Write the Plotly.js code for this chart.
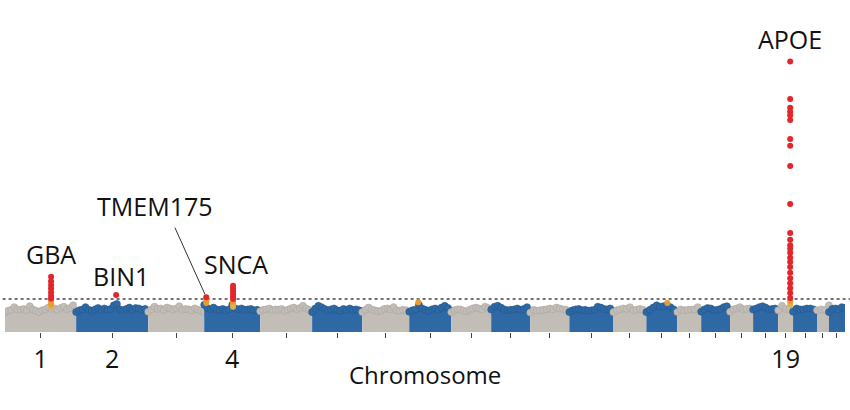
<!DOCTYPE html>
<html>
<head>
<meta charset="utf-8">
<script src="https://cdn.plot.ly/plotly-3.0.1.min.js"></script>
<style>html,body{margin:0;padding:0;background:#fff;}#chart{width:850px;height:410px;}</style>
</head>
<body>
<div id="chart"></div>
<script>
// Chromosome spans (Mb, as drawn) and tick labels
const chromNames = ['1','2','3','4','5','6','7','8','9','10','11','12','13','14','15','16','17','18','19','20','21','22'];
const chromLengths = [244,247,192,192,178,172,161,144,137,134,134,151,113,106,82,99,79,86,51,82,41,55];
const tickLabels = ['1','2','','4','','','','','','','','','','','','','','','19','','',''];
const xTitle = 'Chromosome';

// Upper envelope of each chromosome's SNP cloud (-log10 p), read left to right
const chr1Top = [4.3,4.7,4.9,5.5,5.0,4.9,5.1,4.8,5.7,5.0,4.7,4.4,4.8,5.0,5.4,5.1,5.2,4.9,5.3,5.6,5.0,5.3,5.9,4.6];
const chr2Top = [4.4,4.8,5.0,5.5,4.9,4.7,5.0,5.3,4.9,5.2,4.9,5.1,5.9,6.2,5.0,4.8,5.1,5.4,4.9,5.3,5.2,4.9,5.1,4.5];
const chr3Top = [4.5,5.0,5.6,5.1,5.2,4.9,5.4,5.2,5.0,5.2,5.7,4.9,5.1,5.0,4.8,5.2,4.9,4.7,4.4];
const chr4Top = [6.0,5.3,5.0,5.4,5.0,4.9,5.1,4.8,5.0,6.0,5.2,5.0,5.2,4.9,5.0,5.1,4.8,4.9,4.6];
const chr5Top = [4.6,4.9,5.0,5.2,4.8,5.0,4.9,5.1,4.7,4.9,5.2,5.4,5.0,5.3,5.8,5.2,4.9,4.5];
const chr6Top = [4.4,5.2,5.8,5.5,5.1,4.8,5.0,5.2,4.8,4.7,5.1,4.9,5.2,4.9,5.0,4.8,4.6];
const chr7Top = [4.4,4.9,5.4,5.0,4.8,4.6,4.7,5.1,5.2,5.0,5.5,4.8,4.7,4.9,4.8,4.5];
const chr8Top = [4.5,4.8,5.0,6.0,5.2,4.9,4.7,5.0,5.2,4.9,5.4,5.8,5.3,4.7];
const chr9Top = [4.4,4.8,5.0,5.0,4.7,4.6,4.9,5.2,5.4,5.2,5.0,5.6,5.3,4.6];
const chr10Top = [5.0,5.6,5.8,5.4,5.0,4.8,4.9,5.0,5.2,4.9,5.1,5.5,4.6];
const chr11Top = [4.3,4.9,4.7,4.8,4.9,5.0,5.2,5.0,5.4,5.2,5.0,4.9,4.6];
const chr12Top = [4.4,4.8,5.0,5.1,4.8,4.9,4.7,4.8,4.9,5.6,5.4,5.1,5.0,5.2,4.6];
const chr13Top = [4.4,4.8,5.0,5.2,5.1,5.5,4.8,4.9,5.1,4.9,4.4];
const chr14Top = [4.4,4.9,5.4,5.9,5.6,5.7,5.9,5.5,5.0,4.4];
const chr15Top = [4.4,5.0,4.8,4.9,4.9,5.0,5.5,4.5];
const chr16Top = [4.5,5.0,5.3,5.2,4.8,4.9,5.1,5.5,5.7,4.8];
const chr17Top = [4.5,5.0,5.2,5.5,5.0,5.1,5.2,4.6];
const chr18Top = [5.0,5.2,5.5,5.7,5.4,5.0,5.1,5.2,4.8];
const chr19Top = [4.8,5.8,5.1,5.0,4.7];
const chr20Top = [4.5,5.2,5.0,5.0,5.2,5.2,5.0,4.6];
const chr21Top = [4.8,5.0,4.9,5.9];
const chr22Top = [4.4,5.1,5.2,5.0,5.5,5.3];
const cloudTops = [chr1Top,chr2Top,chr3Top,chr4Top,chr5Top,chr6Top,chr7Top,chr8Top,chr9Top,chr10Top,chr11Top,
  chr12Top,chr13Top,chr14Top,chr15Top,chr16Top,chr17Top,chr18Top,chr19Top,chr20Top,chr21Top,chr22Top];

// Highlighted loci
const gbaValues = [12.2,11.2,10.4,9.6,8.8,8.0,7.4,6.8,6.2,5.6];
const bin1Values = [8.2];
const tmem175Values = [7.7,6.9,6.4];
const sncaValues = [10.2,9.6,9.0,8.4,7.8,7.3,6.7,6.1,5.6];
const chr8Values = [6.6];
const chr14Values = [6.4];
const apoeValues = [59.8,51.5,49.6,48.7,47.9,46.9,42.7,41.2,36.7,28.3,21.9,20.4,19.2,18.4,17.5,16.4,15.5,14.4,13.1,
  11.9,10.8,9.7,8.6,7.5,6.8,6.1];
const hitNames = ['GBA','BIN1','TMEM175','SNCA','','','APOE'];
const hitChrom = ['1','2','4','4','8','14','19'];
const hitPos = [158,137,7,99,31,72,41];
const hitValues = [gbaValues,bin1Values,tmem175Values,sncaValues,chr8Values,chr14Values,apoeValues];
const significance = 7.3;

// ---- build ----
const starts = [];
let acc = 0;
chromLengths.forEach(l => { starts.push(acc); acc += l; });
const total = acc;

const grayFill = '#C3BDB8', grayEdge = '#ABA49F';
const blueFill = '#2E69A5', blueEdge = '#24578D';
const traces = [];
cloudTops.forEach((tops, c) => {
  const n = tops.length;
  const xs = tops.map((_, i) => starts[c] + chromLengths[c] * i / (n - 1));
  const even = c % 2 === 0;
  traces.push({
    type: 'scatter', mode: 'lines+markers', x: xs, y: tops,
    fill: 'tozeroy', fillcolor: even ? grayFill : blueFill,
    line: {width: 0, color: even ? grayFill : blueFill},
    marker: {size: 7, color: even ? grayFill : blueFill, line: {width: 0.6, color: even ? grayEdge : blueEdge}},
    hoverinfo: 'skip', showlegend: false
  });
});

const redX = [], redY = [], orX = [], orY = [], goX = [], goY = [];
hitValues.forEach((vals, h) => {
  const c = chromNames.indexOf(hitChrom[h]);
  const x = starts[c] + hitPos[h];
  vals.forEach(v => {
    if (v >= significance) { redX.push(x); redY.push(v); }
    else if (v >= 6.2) { orX.push(x); orY.push(v); }
    else { goX.push(x); goY.push(v); }
  });
});
[[goX, goY, '#DDB24A'], [orX, orY, '#E99A32'], [redX, redY, '#E3262B']].forEach(([xs, ys, col]) => {
  traces.push({type: 'scatter', mode: 'markers', x: xs, y: ys,
    marker: {size: 6, color: col}, hoverinfo: 'skip', showlegend: false});
});

const tickVals = starts.map((s, i) => s + chromLengths[i] / 2);

const labelShift = {GBA: [0, 23], BIN1: [5, 19], SNCA: [3, 22], APOE: [0, 23], TMEM175: [-51, 91]};
const annotations = [];
hitNames.forEach((name, h) => {
  if (!name) return;
  const c = chromNames.indexOf(hitChrom[h]);
  const x = starts[c] + hitPos[h];
  const y = Math.max(...hitValues[h]);
  annotations.push({x: x, y: y, xref: 'x', yref: 'y', text: name, showarrow: false,
    xshift: labelShift[name][0], yshift: labelShift[name][1], yanchor: 'middle',
    font: {family: 'Open Sans', size: 25, color: '#111'}});
  if (name === 'TMEM175') {
    annotations.push({x: x, y: y, xref: 'x', yref: 'y', text: '', showarrow: true,
      arrowhead: 0, arrowwidth: 1, arrowcolor: '#333', ax: -32, ay: -71, standoff: 3});
  }
});
annotations.push({x: 0.5, y: 0, xref: 'paper', yref: 'paper', text: xTitle, showarrow: false,
  yanchor: 'middle', yshift: -42, font: {family: 'Open Sans', size: 24, color: '#111'}});

const layout = {
  width: 850, height: 410,
  margin: {l: 5, r: 5, t: 10, b: 78},
  paper_bgcolor: '#fff', plot_bgcolor: '#fff',
  showlegend: false,
  xaxis: {
    range: [0, total], showgrid: false, zeroline: false, showline: false,
    tickmode: 'array', tickvals: tickVals, ticktext: tickLabels,
    ticks: 'outside', ticklen: 5, tickwidth: 1, tickcolor: '#444',
    tickfont: {family: 'Open Sans', size: 25, color: '#111'}
  },
  yaxis: {range: [0, 71.2], visible: false, showgrid: false, zeroline: false},
  shapes: [{type: 'line', xref: 'paper', x0: -0.01, x1: 1.01, yref: 'y', y0: significance, y1: significance,
    line: {color: '#444', width: 1.4, dash: 'dot'}, layer: 'below'}],
  annotations: annotations
};

Plotly.newPlot('chart', traces, layout, {displayModeBar: false, staticPlot: true});
</script>
</body>
</html>
